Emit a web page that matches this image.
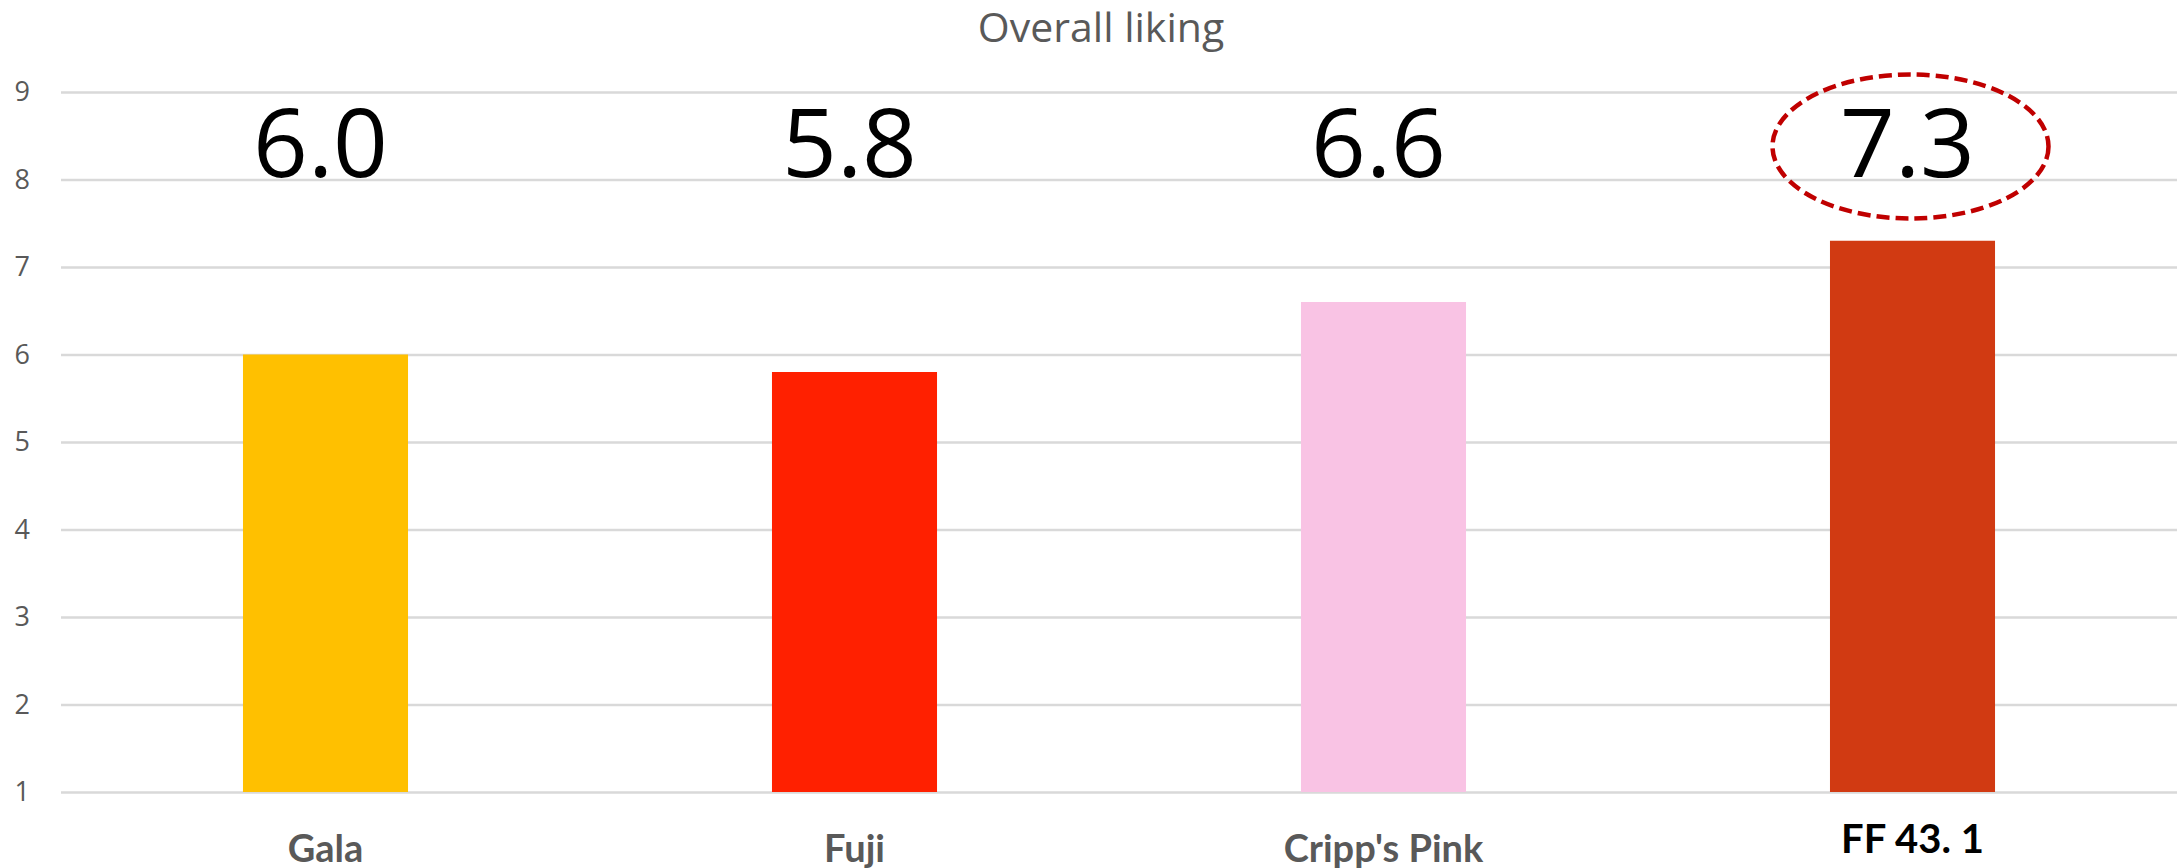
<!DOCTYPE html>
<html>
<head>
<meta charset="utf-8">
<script src="https://cdn.jsdelivr.net/npm/d3@7"></script>
<style>
  html, body { margin: 0; padding: 0; background: #fff; }
  svg { display: block; }
</style>
</head>
<body>
<div id="chart"></div>
<script>
// Data
const categories = ["Gala", "Fuji", "Cripp's Pink", "FF 43. 1"];
const liking = [6.0, 5.8, 6.6, 7.3];
const barColors = ["#FFC000", "#FF2000", "#F9C3E4", "#D13A12"];
const yTicks = [1, 2, 3, 4, 5, 6, 7, 8, 9];
const highlighted = "FF 43. 1";

const width = 2178;
const height = 868;
const margin = { top: 92, right: 1, bottom: 76, left: 61 };

const svg = d3
  .select("#chart")
  .append("svg")
  .attr("width", width)
  .attr("height", height);

const x = d3
  .scaleBand()
  .domain(categories)
  .range([margin.left, width - margin.right])
  .paddingInner(0.688)
  .paddingOuter(0.344);

const y = d3
  .scaleLinear()
  .domain([1, 9])
  .range([height - margin.bottom, margin.top]);

// Title
svg
  .append("text")
  .attr("x", 1101)
  .attr("y", 42)
  .attr("text-anchor", "middle")
  .attr("font-family", "Open Sans, sans-serif")
  .attr("font-size", 41)
  .attr("fill", "#595959")
  .text("Overall liking");

// Gridlines + y labels
const yAxis = svg
  .append("g")
  .attr("transform", `translate(${margin.left},0)`)
  .call(
    d3
      .axisLeft(y)
      .tickValues(yTicks)
      .tickSize(-(width - margin.left - margin.right))
      .tickPadding(31)
      .tickFormat(d3.format("d")),
  );

yAxis.select(".domain").remove();
yAxis
  .selectAll(".tick line")
  .attr("stroke", "#D9D9D9")
  .attr("stroke-width", 2.5);
yAxis
  .selectAll(".tick text")
  .attr("font-family", "Open Sans, sans-serif")
  .attr("font-size", 27)
  .attr("fill", "#595959");

// Bars
svg
  .append("g")
  .selectAll("rect")
  .data(categories)
  .enter()
  .append("rect")
  .attr("x", (d) => x(d))
  .attr("width", x.bandwidth())
  .attr("y", (d, i) => y(liking[i]))
  .attr("height", (d, i) => y(1) - y(liking[i]))
  .attr("fill", (d, i) => barColors[i]);

// Value labels, all on one row near the top
const labelBaseline = y(8) - 3;
svg
  .append("g")
  .selectAll("text")
  .data(categories)
  .enter()
  .append("text")
  .attr("x", (d) => x(d) + x.bandwidth() / 2 - 5)
  .attr("y", labelBaseline)
  .attr("text-anchor", "middle")
  .attr("font-family", "Open Sans, sans-serif")
  .attr("font-size", 96)
  .attr("fill", "#000")
  .text((d, i) => d3.format(".1f")(liking[i]));

// Dashed ellipse round the highlighted value
svg
  .append("ellipse")
  .attr("cx", x(highlighted) + x.bandwidth() / 2 - 2)
  .attr("cy", labelBaseline - 30)
  .attr("rx", 138)
  .attr("ry", 72)
  .attr("fill", "none")
  .attr("stroke", "#C00000")
  .attr("stroke-width", 4.5)
  .attr("stroke-dasharray", "13 6");

// Category labels
svg
  .append("g")
  .selectAll("text")
  .data(categories)
  .enter()
  .append("text")
  .attr("x", (d) => x(d) + x.bandwidth() / 2)
  .attr("y", (d) => (d === highlighted ? 853 : 862))
  .attr("text-anchor", "middle")
  .attr("font-family", "Lato, sans-serif")
  .attr("font-weight", "bold")
  .attr("font-size", (d) => (d === highlighted ? 40 : 38))
  .attr("fill", (d) => (d === highlighted ? "#000" : "#595959"))
  .text((d) => d);
</script>
</body>
</html>
